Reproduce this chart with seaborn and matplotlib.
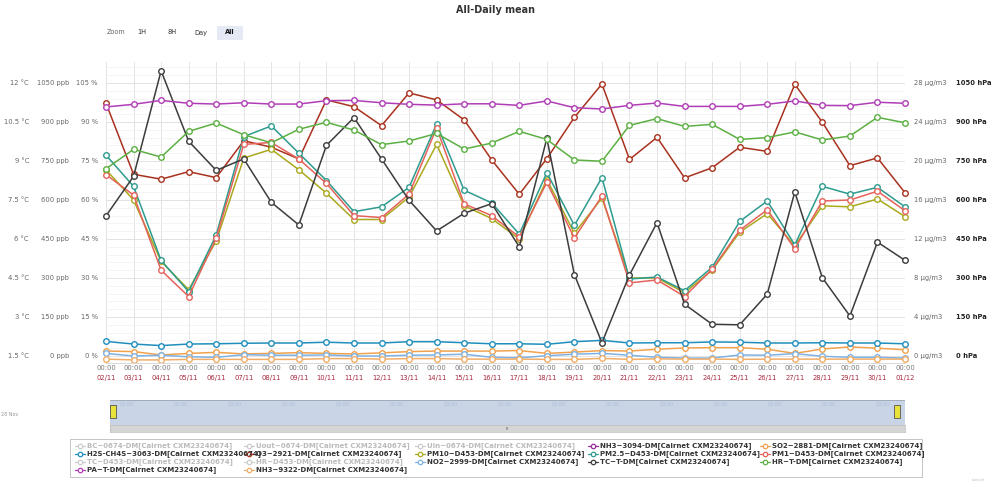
import numpy as np
import pandas as pd
import matplotlib
matplotlib.use("Agg")
import matplotlib.pyplot as plt
from matplotlib.lines import Line2D
from matplotlib.patches import Rectangle
import seaborn as sns

sns.set_style("white")
plt.rcParams["font.family"] = ["DejaVu Sans"]

W, H = 992, 487

# ---- data (daily means, 02/11 -> 01/12) ----
dates = ["02/11", "03/11", "04/11", "05/11", "06/11", "07/11", "08/11", "09/11", "10/11", "11/11",
         "12/11", "13/11", "14/11", "15/11", "16/11", "17/11", "18/11", "19/11", "20/11", "21/11",
         "22/11", "23/11", "24/11", "25/11", "26/11", "27/11", "28/11", "29/11", "30/11", "01/12"]

tc_degc = [6.89, 8.41, 12.47, 9.76, 8.64, 9.08, 7.41, 6.54, 9.60, 10.67, 9.08, 7.49, 6.31, 6.99, 7.36,
           5.70, 9.87, 4.63, 2.01, 4.62, 6.63, 3.49, 2.72, 2.70, 3.88, 7.81, 4.51, 3.04, 5.88, 5.18]
hr_pct = [72.0, 79.5, 76.5, 86.4, 89.6, 85.1, 82.0, 87.2, 89.9, 86.9, 81.3, 82.7, 85.6, 79.6, 81.9,
          86.4, 83.3, 75.4, 74.9, 88.7, 91.3, 88.3, 89.1, 83.3, 84.0, 86.2, 83.1, 84.6, 91.8, 89.7]
pa_hpa = [958, 968, 983, 972, 969, 974, 969, 969, 982, 983, 974, 968, 965, 970, 970,
          964, 981, 955, 950, 964, 973, 960, 960, 960, 968, 981, 964, 963, 976, 972]
o3_ppb = [972, 699, 680, 709, 686, 828, 803, 758, 985, 959, 886, 1012, 985, 908, 754,
          622, 759, 918, 1046, 756, 841, 685, 724, 803, 787, 1045, 899, 732, 762, 628]
pm25_ug = [20.6, 17.4, 9.8, 6.6, 12.4, 22.5, 23.6, 20.8, 18.0, 14.8, 15.3, 17.3, 23.8, 17.0, 15.7,
           12.5, 18.8, 13.4, 18.3, 7.9, 8.1, 6.7, 9.1, 13.8, 15.9, 11.4, 17.4, 16.6, 17.3, 15.3]
pm1_ug = [18.6, 16.5, 8.8, 6.1, 12.1, 21.7, 21.9, 20.2, 17.7, 14.4, 14.2, 16.6, 23.4, 15.6, 14.4,
          12.2, 17.8, 12.1, 16.4, 7.5, 7.8, 6.1, 8.9, 12.9, 15.0, 11.0, 15.9, 16.0, 16.9, 14.9]
pm10_ug = [19.1, 16.0, 9.7, 6.8, 11.8, 20.3, 21.2, 19.1, 16.7, 14.0, 14.0, 16.3, 21.7, 15.4, 14.1,
           12.0, 18.1, 12.6, 16.2, 8.0, 8.0, 6.5, 8.8, 12.7, 14.6, 11.3, 15.4, 15.3, 16.1, 14.3]
h2s_ppb = [56, 46, 40, 46, 47, 49, 50, 50, 53, 50, 50, 55, 55, 51, 47,
           47, 45, 55, 60, 50, 51, 51, 54, 53, 50, 50, 51, 50, 50, 47]
so2_ppb = [19, 17, 4, 10, 14, 8, 10, 13, 10, 8, 12, 17, 19, 19, 19,
           21, 10, 15, 21, 19, 26, 31, 32, 32, 26, 10, 27, 35, 30, 24]
no2_ppb = [10, 0, 3, -3, -5, 5, 3, 3, 4, 0, 0, 3, 4, 7, -5,
           -7, 1, 7, 10, 3, -5, -8, -8, 4, 3, 9, -1, -5, -5, -8]
nh3b_ppb = [-12, -15, -15, -13, -13, -13, -13, -13, -10, -10, -12, -10, -10, -12, -12,
            -12, -13, -13, -9, -13, -11, -12, -12, -13, -12, -12, -12, -12, -12, -12]

# axis tick labels (all axes share the same grid)
pct_ticks = [0, 15, 30, 45, 60, 75, 90, 105]
degc_labels = ["1.5 °C", "3 °C", "4.5 °C", "6 °C", "7.5 °C", "9 °C", "10.5 °C", "12 °C"]
ppb_labels = ["0 ppb", "150 ppb", "300 ppb", "450 ppb", "600 ppb", "750 ppb", "900 ppb", "1050 ppb"]
pct_labels = ["0 %", "15 %", "30 %", "45 %", "60 %", "75 %", "90 %", "105 %"]
ug_labels = ["0 µg/m3", "4 µg/m3", "8 µg/m3", "12 µg/m3", "16 µg/m3", "20 µg/m3", "24 µg/m3", "28 µg/m3"]
hpa_labels = ["0 hPa", "150 hPa", "300 hPa", "450 hPa", "600 hPa", "750 hPa", "900 hPa", "1050 hPa"]

sfx = "[Cairnet CXM23240674]"


# map each unit onto the shared % scale
def from_degc(v):
    return [(x - 1.5) * 10 for x in v]


def from_ppb(v):
    return [x / 10 for x in v]


def from_ug(v):
    return [x * 105 / 28 for x in v]


series = [
    ("SO2~2881-DM", from_ppb(so2_ppb), "#f0a24e"),
    ("H2S-CH4S~3063-DM", from_ppb(h2s_ppb), "#1f8ebd"),
    ("O3~2921-DM", from_ppb(o3_ppb), "#a9321f"),
    ("PM10~D453-DM", from_ug(pm10_ug), "#aaa81c"),
    ("PM2.5~D453-DM", from_ug(pm25_ug), "#2d9b8e"),
    ("PM1~D453-DM", from_ug(pm1_ug), "#e5625c"),
    ("NO2~2999-DM", from_ppb(no2_ppb), "#7fb2e2"),
    ("TC~T-DM", from_degc(tc_degc), "#3c3c3c"),
    ("HR~T-DM", hr_pct, "#5cb043"),
    ("PA~T-DM", from_ppb(pa_hpa), "#b03db6"),
    ("NH3~9322-DM", from_ppb(nh3b_ppb), "#f2ad66"),
]

fig = plt.figure(figsize=(W / 100, H / 100), dpi=100)


def fx(x):
    return x / W


def fy(y):
    return 1 - y / H


ymin, ymax = -2.5, 113
top_px, bot_px = 356 - ymax * 39 / 15, 356 - ymin * 39 / 15
ax = fig.add_axes([fx(106), fy(bot_px), fx(905) - fx(106), fy(top_px) - fy(bot_px)])

days = np.arange(len(dates))
for name, vals, col in series:
    df = pd.DataFrame({"day": days, "v": vals})
    sns.lineplot(data=df, x="day", y="v", ax=ax, color=col, linewidth=1.1,
                 marker="o", markersize=4, markerfacecolor="white",
                 markeredgecolor=col, markeredgewidth=1.0, clip_on=False, legend=False)

ax.set_xlim(0, len(dates) - 1)
ax.set_ylim(ymin, ymax)
ax.set_xticks(days)
ax.set_yticks(pct_ticks)
ax.set_yticks(np.arange(0, 113, 3), minor=True)
ax.grid(True, which="major", color="#e3e3e3", linewidth=0.7)
ax.grid(True, which="minor", axis="y", color="#f3f3f3", linewidth=0.6)
ax.set_axisbelow(True)
ax.tick_params(length=0, labelbottom=False, labelleft=False)
ax.set_xlabel("")
ax.set_ylabel("")
for s in ["top", "right", "left"]:
    ax.spines[s].set_visible(False)
ax.spines["bottom"].set_color("#d8d8d8")
ax.spines["bottom"].set_linewidth(0.7)

# y tick label columns
yt = ax.get_yaxis_transform()
axw = 905 - 106
fs = 4.9
for i, t in enumerate(pct_ticks):
    ax.text((29 - 106) / axw, t, degc_labels[i], transform=yt, ha="right", va="center", fontsize=fs, color="#666666")
    ax.text((69 - 106) / axw, t, ppb_labels[i], transform=yt, ha="right", va="center", fontsize=fs, color="#666666")
    ax.text((98 - 106) / axw, t, pct_labels[i], transform=yt, ha="right", va="center", fontsize=fs, color="#666666")
    ax.text((914 - 106) / axw, t, ug_labels[i], transform=yt, ha="left", va="center", fontsize=fs, color="#666666")
    ax.text((956 - 106) / axw, t, hpa_labels[i], transform=yt, ha="left", va="center", fontsize=fs,
            color="#222222", fontweight="bold")

# x tick labels
xt = ax.get_xaxis_transform()
axh = bot_px - top_px
for i, d in enumerate(dates):
    ax.text(i, -(367.5 - bot_px) / axh, "00:00", transform=xt, ha="center", va="center", fontsize=fs, color="#777777")
    ax.text(i, -(378 - bot_px) / axh, d, transform=xt, ha="center", va="center", fontsize=fs, color="#a8283c")

# title and zoom buttons
fig.text(fx(496), fy(10), "All-Daily mean", ha="center", va="center", fontsize=6.9, fontweight="bold", color="#333333")
fig.patches.append(Rectangle((fx(217), fy(39.5)), fx(26), fy(26) - fy(39.5), transform=fig.transFigure,
                             facecolor="#e4e9f4", edgecolor="none"))
fig.text(fx(107), fy(32.5), "Zoom", ha="left", va="center", fontsize=4.7, color="#666666")
for lbl, cx in [("1H", 142), ("8H", 172), ("Day", 201)]:
    fig.text(fx(cx), fy(32.5), lbl, ha="center", va="center", fontsize=4.8, color="#333333")
fig.text(fx(230), fy(32.5), "All", ha="center", va="center", fontsize=4.8, color="#111111", fontweight="bold")

# navigator
nav = fig.add_axes([fx(110), fy(425), fx(905) - fx(110), fy(400) - fy(425)])
nav.set_facecolor("#c9d5e7")
nav.set_xticks([])
nav.set_yticks([])
for s in nav.spines.values():
    s.set_visible(False)
nav.axhline(1, color="#9aa4b0", linewidth=1.2)
for k in range(15):
    nav.text((127 + 54 * k - 110) / (905 - 110), 0.8, "00:00", transform=nav.transAxes, ha="center",
             va="center", fontsize=3.5, color="#aebbd0")
scr = fig.add_axes([fx(110), fy(432), fx(905) - fx(110), fy(425) - fy(432)])
scr.set_facecolor("#d6d6d6")
scr.set_xticks([])
scr.set_yticks([])
for s in scr.spines.values():
    s.set_color("#bbbbbb")
    s.set_linewidth(0.5)
scr.text(0.5, 0.5, "III", transform=scr.transAxes, ha="center", va="center", fontsize=3, color="#555555")
for hx in (113, 897):
    fig.patches.append(Rectangle((fx(hx - 3), fy(418)), fx(6), fy(405) - fy(418), transform=fig.transFigure,
                                 facecolor="#e8e23a", edgecolor="#555555", linewidth=0.6))
fig.text(fx(1), fy(414), "28 Nov", ha="left", va="center", fontsize=3.5, color="#999999")

# legend
fig.patches.append(Rectangle((fx(70), fy(477)), fx(922) - fx(70), fy(439) - fy(477), transform=fig.transFigure,
                             facecolor="white", edgecolor="#bbbbbb", linewidth=0.6))
hidden = "#cccccc"
legend_rows = [
    [("BC~0674-DM", hidden), ("Uout~0674-DM", hidden), ("Uin~0674-DM", hidden),
     ("NH3~3094-DM", "#9c2c9e"), ("SO2~2881-DM", "#f0a24e")],
    [("H2S-CH4S~3063-DM", "#1f8ebd"), ("O3~2921-DM", "#a9321f"), ("PM10~D453-DM", "#aaa81c"),
     ("PM2.5~D453-DM", "#2d9b8e"), ("PM1~D453-DM", "#e5625c")],
    [("TC~D453-DM", hidden), ("HR~D453-DM", hidden), ("NO2~2999-DM", "#7fb2e2"),
     ("TC~T-DM", "#3c3c3c"), ("HR~T-DM", "#5cb043")],
    [("PA~T-DM", "#b03db6"), ("NH3~9322-DM", "#f2ad66")],
]
col_x = [80, 249, 420, 593, 765]
row_y = [445.5, 454, 462, 470]
for r, row in enumerate(legend_rows):
    for c, (name, col) in enumerate(row):
        mx = col_x[c]
        y = row_y[r]
        fig.add_artist(Line2D([fx(mx - 5), fx(mx + 5)], [fy(y), fy(y)], transform=fig.transFigure,
                              color=col, linewidth=0.9))
        fig.add_artist(Line2D([fx(mx)], [fy(y)], transform=fig.transFigure, marker="o", markersize=3.2,
                              markerfacecolor="white", markeredgecolor=col, markeredgewidth=0.9))
        tcol = "#bbbbbb" if col == hidden else "#333333"
        fig.text(fx(mx + 7), fy(y), name + sfx, ha="left", va="center", fontsize=5.0,
                 fontweight="bold", color=tcol)

fig.text(fx(985), fy(480), "iseo.fr", ha="right", va="center", fontsize=3.2, color="#bbbbbb")

fig.savefig("out.png", dpi=100)
